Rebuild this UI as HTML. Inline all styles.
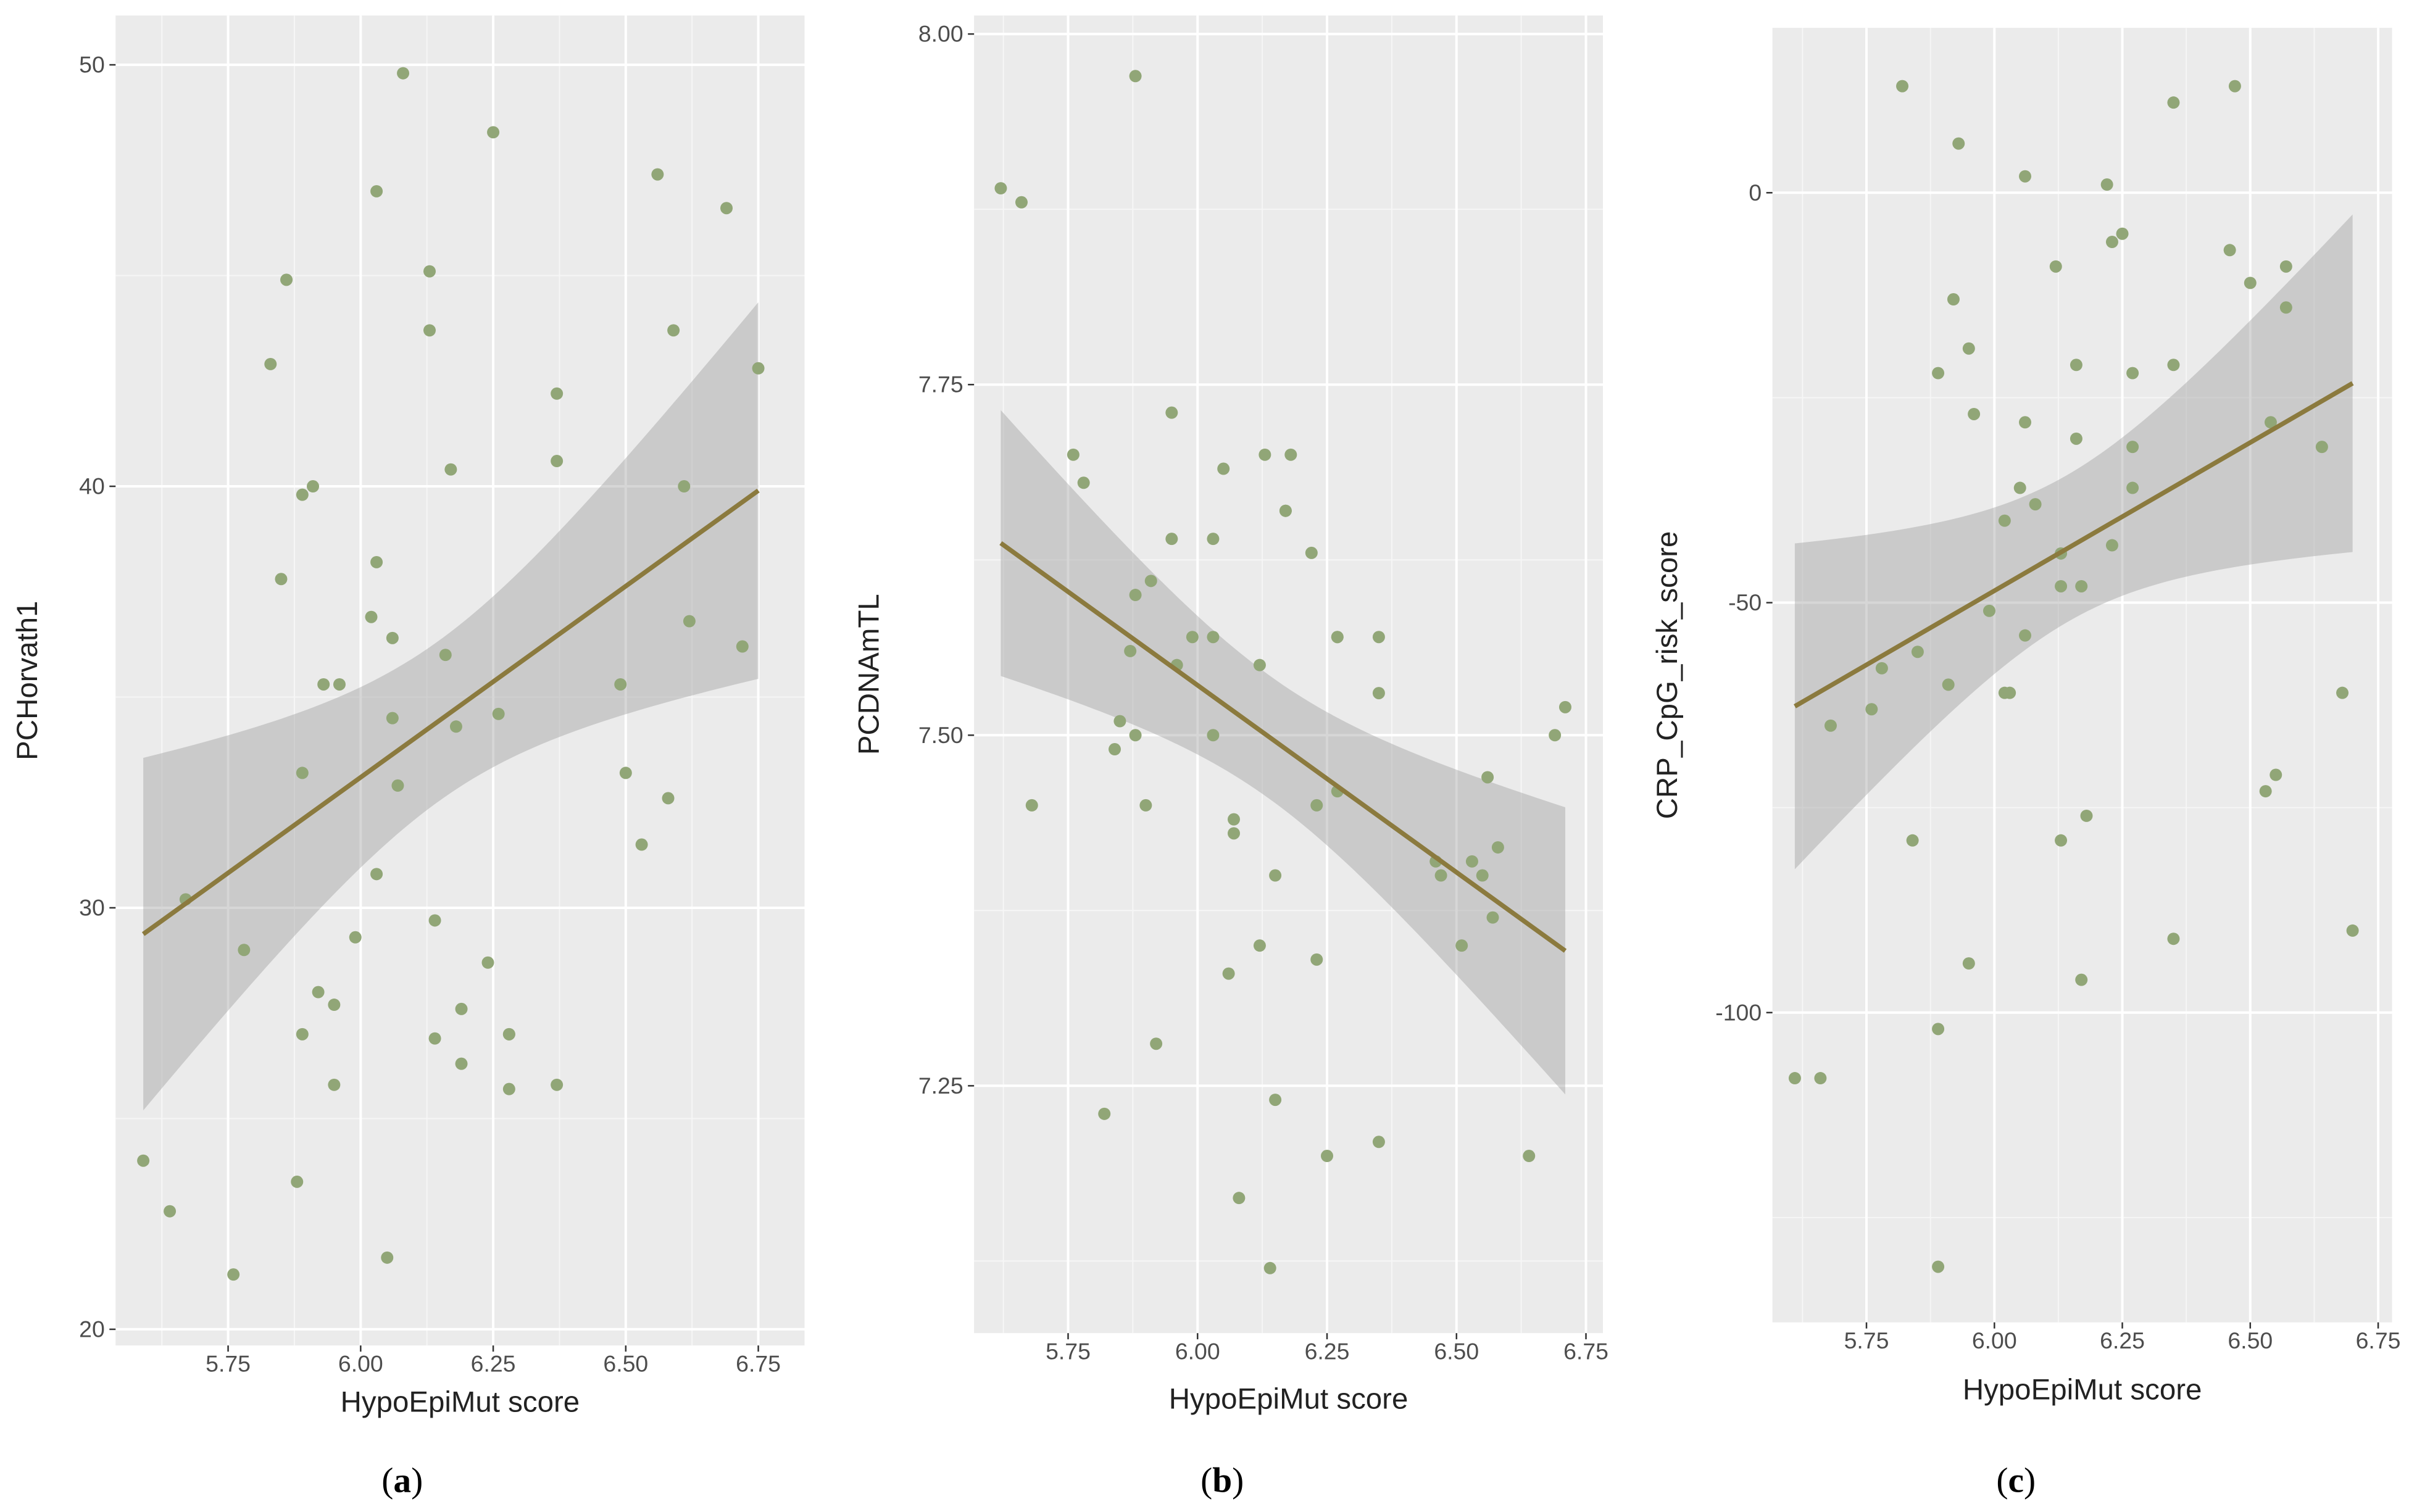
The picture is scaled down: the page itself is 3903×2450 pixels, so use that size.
<!DOCTYPE html>
<html><head><meta charset="utf-8"><style>
html,body{margin:0;padding:0;background:#fff;}
svg{display:block;}
text{font-family:"Liberation Sans",sans-serif;}
</style></head>
<body>
<svg id="fig" width="3903" height="2450" viewBox="0 0 1563 981" xmlns="http://www.w3.org/2000/svg"></svg>
<script>
// Panel (a) data
const aX = [5.59,5.64,5.67,5.76,5.78,5.83,5.85,5.86,5.88,5.89,5.89,5.89,5.91,5.92,5.93,5.95,5.95,5.96,5.99,6.02,6.03,6.03,6.03,6.05,6.06,6.06,6.07,6.08,6.13,6.13,6.14,6.14,6.16,6.17,6.18,6.19,6.19,6.24,6.25,6.26,6.28,6.28,6.28,6.37,6.37,6.37,6.49,6.50,6.53,6.56,6.58,6.59,6.61,6.62,6.69,6.72,6.75];
const aY = [24.0,22.8,30.2,21.3,29.0,42.9,37.8,44.9,23.5,27.0,33.2,39.8,40.0,28.0,35.3,25.8,27.7,35.3,29.3,36.9,47.0,30.8,38.2,21.7,36.4,34.5,32.9,49.8,45.1,43.7,29.7,26.9,36.0,40.4,34.3,26.3,27.6,28.7,48.4,34.6,27.0,25.7,27.0,25.8,42.2,40.6,35.3,33.2,31.5,47.4,32.6,43.7,40.0,36.8,46.6,36.2,42.8];
// Panel (b) data
const bX = [5.62,5.66,5.68,5.76,5.78,5.82,5.84,5.85,5.87,5.88,5.88,5.88,5.90,5.91,5.92,5.95,5.95,5.96,5.99,6.03,6.03,6.03,6.05,6.06,6.07,6.07,6.08,6.12,6.12,6.13,6.14,6.15,6.15,6.17,6.17,6.18,6.22,6.23,6.23,6.25,6.27,6.27,6.27,6.35,6.35,6.35,6.46,6.47,6.51,6.53,6.55,6.56,6.57,6.58,6.69,6.71,6.64];
const bY = [7.89,7.88,7.45,7.70,7.68,7.23,7.49,7.51,7.56,7.97,7.50,7.60,7.45,7.61,7.28,7.73,7.64,7.55,7.57,7.64,7.50,7.57,7.69,7.33,7.44,7.43,7.17,7.55,7.35,7.70,7.12,7.40,7.24,7.66,7.66,7.70,7.63,7.45,7.34,7.20,7.57,7.57,7.46,7.57,7.53,7.21,7.41,7.40,7.35,7.41,7.40,7.47,7.37,7.42,7.50,7.52,7.20];
// Panel (c) data
const cX = [5.61,5.66,5.68,5.76,5.78,5.82,5.84,5.85,5.89,5.89,5.89,5.91,5.92,5.93,5.95,5.95,5.96,5.99,6.02,6.02,6.03,6.05,6.06,6.06,6.06,6.08,6.12,6.13,6.13,6.13,6.16,6.16,6.17,6.18,6.17,6.22,6.23,6.23,6.25,6.27,6.27,6.27,6.35,6.35,6.35,6.46,6.47,6.50,6.53,6.54,6.55,6.57,6.57,6.64,6.68,6.70];
const cY = [-108,-108,-65,-63,-58,13,-79,-56,-22,-102,-131,-60,-13,6,-19,-94,-27,-51,-40,-61,-61,-36,2,-28,-54,-38,-9,-44,-48,-79,-30,-21,-48,-76,-96,1,-6,-43,-5,-22,-31,-36,11,-21,-91,-7,13,-11,-73,-28,-71,-14,-9,-31,-61,-90];

const xTicks = [5.75,6.00,6.25,6.50,6.75];
const xTickLabels = ["5.75","6.00","6.25","6.50","6.75"];
const aYTicks = [20,30,40,50], aYLabels=["20","30","40","50"];
const bYTicks = [7.25,7.5,7.75,8.0], bYLabels=["7.25","7.50","7.75","8.00"];
const cYTicks = [-100,-50,0], cYLabels=["-100","-50","0"];

const NS="http://www.w3.org/2000/svg";
const svg=document.getElementById('fig');
function mk(tag,attrs,parent){const e=document.createElementNS(NS,tag);for(const k in attrs)e.setAttribute(k,attrs[k]);(parent||svg).appendChild(e);return e;}

function panel(cfg){
  const g=mk('g',{});
  
  
  const sx=v=>cfg.px0+(v-cfg.dx0)*cfg.pxPerX;
  const sy=v=>cfg.py0-(v-cfg.dy0)*cfg.pyPerY;
  const L=cfg.L,R=cfg.R,T=cfg.T,B=cfg.B;
  const bg=mk('rect',{x:L,y:T,width:R-L,height:B-T,fill:'#ebebeb'},g);
  
  
  const xmin=cfg.dx0+(L-cfg.px0)/cfg.pxPerX, xmax=cfg.dx0+(R-cfg.px0)/cfg.pxPerX;
  const ymax=cfg.dy0+(cfg.py0-T)/cfg.pyPerY, ymin=cfg.dy0+(cfg.py0-B)/cfg.pyPerY;
  for(let v=5.5;v<=7;v+=0.25){const m=v+0.125;if(m>xmin&&m<xmax){const ln=mk('line',{x1:sx(m),x2:sx(m),y1:T,y2:B,stroke:'#f6f6f6','stroke-width':0.8},g);}}
  for(let v=-200;v<=200;v+=cfg.yStep){const m=cfg.yBase+v;const mm=m+cfg.yStep/2;if(mm>ymin&&mm<ymax){const ln=mk('line',{x1:L,x2:R,y1:sy(mm),y2:sy(mm),stroke:'#f6f6f6','stroke-width':0.8},g);}}
  xTicks.forEach((t,i)=>{const x=sx(t);if(x>R+1)return;
    const ln=mk('line',{x1:x,x2:x,y1:T,y2:B,stroke:'#fff','stroke-width':1.6},g);
    const tk=mk('line',{x1:x,x2:x,y1:B,y2:B+4,stroke:'#333','stroke-width':1},g);
    const tx=mk('text',{x:x,y:B+17,'font-size':15,fill:'#4d4d4d','text-anchor':'middle'},g);tx.textContent=xTickLabels[i];});
  cfg.yTicks.forEach((t,i)=>{const y=sy(t);
    const ln=mk('line',{x1:L,x2:R,y1:y,y2:y,stroke:'#fff','stroke-width':1.6},g);
    const tk=mk('line',{x1:L-4,x2:L,y1:y,y2:y,stroke:'#333','stroke-width':1},g);
    const tx=mk('text',{x:L-7,y:y+5,'font-size':15,fill:'#4d4d4d','text-anchor':'end'},g);tx.textContent=cfg.yLabels[i];});
  const X=cfg.xs,Y=cfg.ys,n=X.length;
  const mx=X.reduce((a,b)=>a+b,0)/n,my=Y.reduce((a,b)=>a+b,0)/n;
  let sxx=0,sxy=0;for(let i=0;i<n;i++){sxx+=(X[i]-mx)**2;sxy+=(X[i]-mx)*(Y[i]-my);}
  const b1=sxy/sxx,b0=my-b1*mx;let sse=0;for(let i=0;i<n;i++)sse+=(Y[i]-b0-b1*X[i])**2;
  const s=Math.sqrt(sse/(n-2)),tq=2.0;
  const x0=Math.min(...X),x1=Math.max(...X);
  let up=[],lo=[];
  for(let k=0;k<=80;k++){const x=x0+(x1-x0)*k/80;const f=b0+b1*x;const se=s*Math.sqrt(1/n+(x-mx)**2/sxx);
    up.push(sx(x).toFixed(2)+','+sy(f+tq*se).toFixed(2));lo.unshift(sx(x).toFixed(2)+','+sy(f-tq*se).toFixed(2));}
  const band=mk('polygon',{points:up.concat(lo).join(' '),fill:'#999','fill-opacity':0.4},g);
  
  for(let i=0;i<n;i++){const c=mk('circle',{cx:sx(X[i]),cy:sy(Y[i]),r:4,fill:'#91a677'},g);}
  const fl=mk('line',{x1:sx(x0),y1:sy(b0+b1*x0),x2:sx(x1),y2:sy(b0+b1*x1),stroke:'#8b7a3e','stroke-width':3},g);
  
  const xt=mk('text',{x:(L+R)/2,y:cfg.xTitleY,'font-size':19,fill:'#222','text-anchor':'middle'},g);xt.textContent='HypoEpiMut score';
  
  const yt=mk('text',{x:0,y:0,'font-size':19,fill:'#222','text-anchor':'middle',transform:`translate(${cfg.yTitleX},${(T+B)/2}) rotate(-90)`},g);yt.textContent=cfg.yTitle;
  
  const cap=mk('text',{x:cfg.capX,y:968,'font-size':23,fill:'#000','text-anchor':'middle',style:'font-family:"Liberation Serif",serif'},g);
  cap.innerHTML='(<tspan font-weight="bold">'+cfg.id+'</tspan>)';
  
}
panel({id:'a',xs:aX,ys:aY,L:75,R:522,T:10,B:873,px0:234,dx0:6,pxPerX:344,py0:589,dy0:30,pyPerY:27.35,yTicks:aYTicks,yLabels:aYLabels,yStep:10,yBase:0,yTitle:'PCHorvath1',yTitleX:24,xTitleY:916,capX:261});
panel({id:'b',xs:bX,ys:bY,L:632,R:1040,T:10,B:865,px0:777,dx0:6,pxPerX:336,py0:477,dy0:7.5,pyPerY:910,yTicks:bYTicks,yLabels:bYLabels,yStep:0.25,yBase:0,yTitle:'PCDNAmTL',yTitleX:570,xTitleY:914,capX:793});
panel({id:'c',xs:cX,ys:cY,L:1150,R:1552,T:18,B:858,px0:1294,dx0:6,pxPerX:332,py0:125,dy0:0,pyPerY:5.32,yTicks:cYTicks,yLabels:cYLabels,yStep:50,yBase:0,yTitle:'CRP_CpG_risk_score',yTitleX:1088,xTitleY:908,capX:1308});
</script>
</body></html>
